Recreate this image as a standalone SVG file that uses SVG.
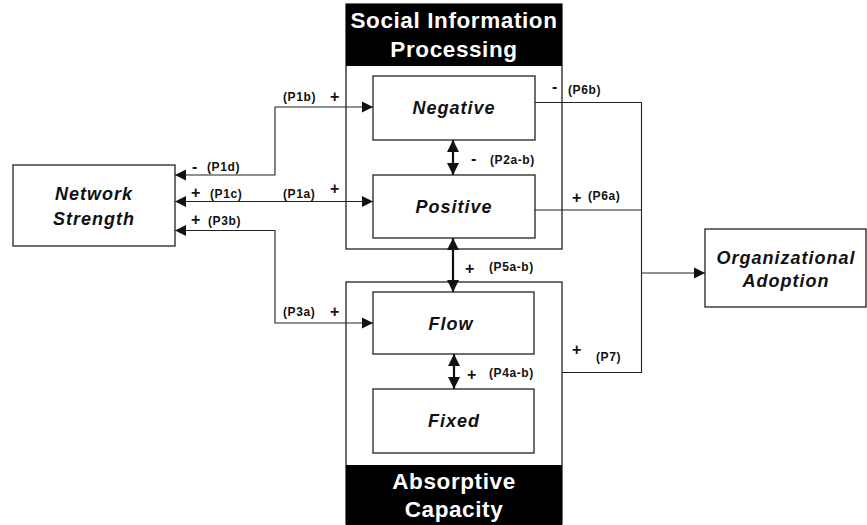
<svg xmlns="http://www.w3.org/2000/svg" width="867" height="525" viewBox="0 0 867 525">
<defs>
<style>
.box{fill:#fff;stroke:#222;stroke-width:1.3}
.frame{fill:none;stroke:#222;stroke-width:1.3}
.hdr{fill:#000}
.ht{font-family:"Liberation Sans",Arial,sans-serif;font-weight:bold;font-size:22.5px;fill:#fff;text-anchor:middle;letter-spacing:0.6px}
.nt{font-family:"Liberation Sans",Arial,sans-serif;font-weight:bold;font-style:italic;font-size:18px;fill:#111;text-anchor:middle;letter-spacing:1px}
.lbl{font-family:"Liberation Sans",Arial,sans-serif;font-weight:bold;font-size:12px;fill:#111;letter-spacing:0.6px}
.sg{font-family:"Liberation Sans",Arial,sans-serif;font-weight:bold;font-size:16px;fill:#111}
.ln{fill:none;stroke:#222;stroke-width:1.1}
.thick{fill:none;stroke:#111;stroke-width:2.2}
</style>
<marker id="ah" viewBox="0 0 10 10" refX="10" refY="5" markerWidth="11" markerHeight="12" markerUnits="userSpaceOnUse" orient="auto-start-reverse">
<path d="M0,0 L10,5 L0,10 Z" fill="#111"/>
</marker>
<marker id="ahb" viewBox="0 0 10 10" refX="10" refY="5" markerWidth="12" markerHeight="15" markerUnits="userSpaceOnUse" orient="auto-start-reverse">
<path d="M0,0 L10,5 L0,10 Z" fill="#111"/>
</marker>
</defs>
<rect width="867" height="525" fill="#fff"/>

<g id="sip-frame">
<rect class="frame" x="346" y="4" width="216" height="245"/>
<rect class="hdr" x="346" y="4" width="216" height="62"/>
<text class="ht" x="454" y="28">Social Information</text>
<text class="ht" x="454" y="57">Processing</text>
</g>

<g id="ac-frame">
<rect class="frame" x="346" y="282" width="216" height="242"/>
<rect class="hdr" x="346" y="465" width="216" height="60"/>
<text class="ht" x="454" y="489">Absorptive</text>
<text class="ht" x="454" y="517">Capacity</text>
</g>

<g id="connectors">
<path class="ln" d="M175,175 H275 V107 H373" marker-start="url(#ah)" marker-end="url(#ah)"/>
<path class="ln" d="M175,201.5 H373" marker-start="url(#ah)" marker-end="url(#ah)"/>
<path class="ln" d="M175,230.5 H275 V323 H373" marker-start="url(#ah)" marker-end="url(#ah)"/>
<path class="ln" d="M535,102.5 H641.5 V372.5 H562"/>
<path class="ln" d="M535,210 H641.5"/>
<path class="ln" d="M641.5,273 H705" marker-end="url(#ah)"/>
<path class="thick" d="M453,140 V175" marker-start="url(#ahb)" marker-end="url(#ahb)"/>
<path class="thick" d="M453,238 V292" marker-start="url(#ahb)" marker-end="url(#ahb)"/>
<path class="thick" d="M454,354 V389" marker-start="url(#ahb)" marker-end="url(#ahb)"/>
</g>

<g id="network-strength">
<rect class="box" x="13" y="165" width="162" height="81"/>
<text class="nt" x="94" y="200">Network</text>
<text class="nt" x="94" y="225">Strength</text>
</g>

<g id="negative">
<rect class="box" x="373" y="76" width="162" height="64"/>
<text class="nt" x="454" y="114">Negative</text>
</g>

<g id="positive">
<rect class="box" x="373" y="175" width="162" height="63"/>
<text class="nt" x="454" y="213">Positive</text>
</g>

<g id="flow">
<rect class="box" x="373" y="292" width="161" height="62"/>
<text class="nt" x="451" y="330">Flow</text>
</g>

<g id="fixed">
<rect class="box" x="373" y="389" width="161" height="64"/>
<text class="nt" x="454" y="427">Fixed</text>
</g>

<g id="organizational-adoption">
<rect class="box" x="705" y="229" width="161" height="78"/>
<text class="nt" x="786" y="264">Organizational</text>
<text class="nt" x="786" y="287">Adoption</text>
</g>

<g id="labels">
<text class="lbl" x="283" y="101">(P1b)</text>
<text class="sg" x="330" y="102">+</text>
<text class="sg" x="192" y="172">-</text>
<text class="lbl" x="207" y="171">(P1d)</text>
<text class="sg" x="191" y="198">+</text>
<text class="lbl" x="210" y="198">(P1c)</text>
<text class="lbl" x="283" y="198">(P1a)</text>
<text class="sg" x="330" y="194">+</text>
<text class="sg" x="191" y="225">+</text>
<text class="lbl" x="208" y="225">(P3b)</text>
<text class="sg" x="471" y="164">-</text>
<text class="lbl" x="490" y="164">(P2a-b)</text>
<text class="sg" x="465" y="274">+</text>
<text class="lbl" x="489" y="271">(P5a-b)</text>
<text class="lbl" x="283" y="316">(P3a)</text>
<text class="sg" x="330" y="317">+</text>
<text class="sg" x="467" y="380">+</text>
<text class="lbl" x="489" y="377">(P4a-b)</text>
<text class="sg" x="552" y="92">-</text>
<text class="lbl" x="568" y="94">(P6b)</text>
<text class="sg" x="572" y="203">+</text>
<text class="lbl" x="588" y="200">(P6a)</text>
<text class="sg" x="572" y="355">+</text>
<text class="lbl" x="596" y="361">(P7)</text>
</g>
</svg>
